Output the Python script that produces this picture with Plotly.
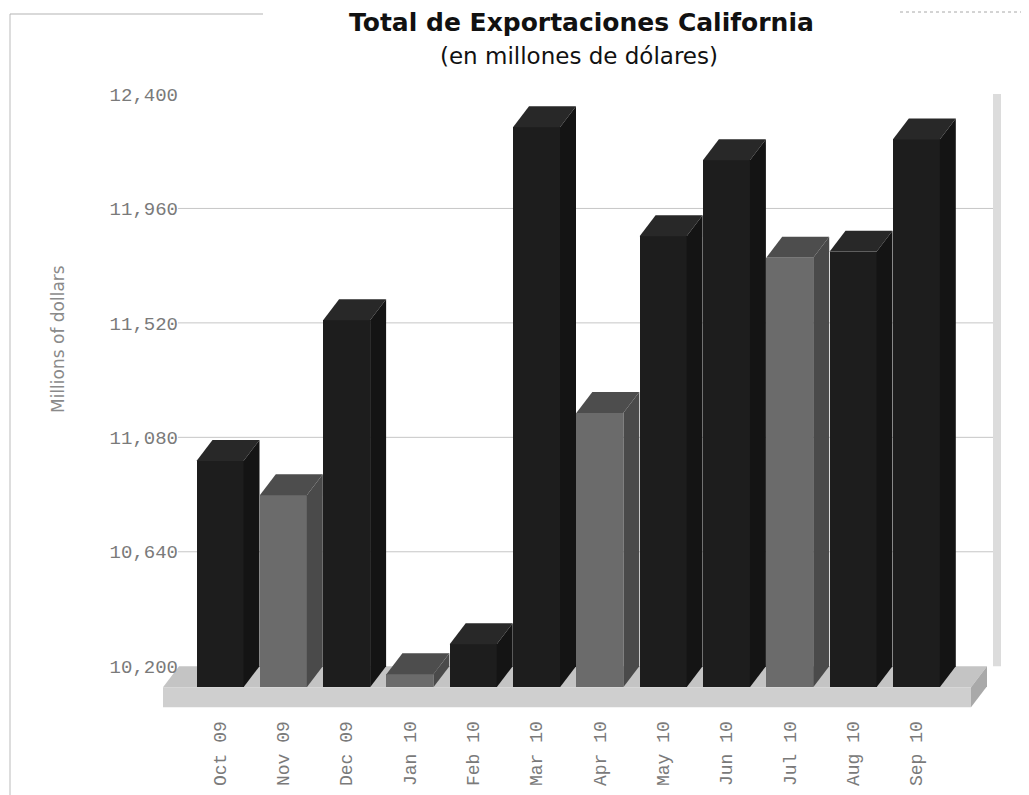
import plotly.graph_objects as go

# ---------------- data ----------------
months = ["Oct 09", "Nov 09", "Dec 09", "Jan 10", "Feb 10", "Mar 10",
          "Apr 10", "May 10", "Jun 10", "Jul 10", "Aug 10", "Sep 10"]
exports = [11070, 10938, 11611, 10250, 10365, 12353,
           11254, 11934, 12226, 11851, 11874, 12306]
y_ticks = [10200, 10640, 11080, 11520, 11960, 12400]
y_tick_labels = ["10,200", "10,640", "11,080", "11,520", "11,960", "12,400"]

title_text = "Total de Exportaciones California"
subtitle_text = "(en millones de dólares)"
y_title = "Millions of dollars"

# ---------------- layout geometry (screen pixels) ----------------
W, H = 1029, 795
OFF = 8  # default page body margin
L, R, T, B = 160, 1005, 94, 712
X0_PX, PITCH_PX = 220, 63.3
Y_LO, Y_HI = 10024, 12400
BASE = y_ticks[0]

def ux(px):
    return (px - X0_PX) / PITCH_PX

def paper_x(px):
    return (px - L) / (R - L)

def paper_y(py):
    return (B - py) / (B - T)

upp = (Y_HI - Y_LO) / (B - T)
DX = 16 / PITCH_PX
DY = 21 * upp
HW = 23.5 / PITCH_PX
FLOOR_THICK = 20 * upp

BLACK = dict(front="#1d1d1d", top="#282828", side="#141414")
GRAY = dict(front="#6b6b6b", top="#4d4d4d", side="#4a4a4a")
styles = [BLACK if i == 0 or exports[i] >= exports[i - 1] else GRAY
          for i in range(len(exports))]

fig = go.Figure()

# front faces as bars
fig.add_trace(go.Bar(
    x=list(range(len(months))),
    y=[v - BASE for v in exports],
    base=BASE - DY,
    width=2 * HW,
    marker=dict(color=[s["front"] for s in styles], line=dict(width=0)),
    hoverinfo="skip",
    showlegend=False,
))

# top and side faces
for i, v in enumerate(exports):
    s = styles[i]
    fig.add_trace(go.Scatter(
        x=[i - HW, i - HW + DX, i + HW + DX, i + HW, i - HW],
        y=[v - DY, v, v, v - DY, v - DY],
        mode="lines", fill="toself", fillcolor=s["top"],
        line=dict(width=0, color=s["top"]), hoverinfo="skip", showlegend=False))
    fig.add_trace(go.Scatter(
        x=[i + HW, i + HW + DX, i + HW + DX, i + HW, i + HW],
        y=[v - DY, v, BASE, BASE - DY, v - DY],
        mode="lines", fill="toself", fillcolor=s["side"],
        line=dict(width=0, color=s["side"]), hoverinfo="skip", showlegend=False))

shapes = []

def path(points):
    return "M " + " L ".join(f"{x},{y}" for x, y in points) + " Z"

# gridlines on back wall
for t in y_ticks[1:-1]:
    shapes.append(dict(type="line", xref="x", yref="y", layer="below",
                       x0=ux(178), x1=ux(993), y0=t, y1=t,
                       line=dict(color="#c6c6c6", width=1)))

# right wall band
shapes.append(dict(type="rect", xref="x", yref="y", layer="below",
                   x0=ux(993), x1=ux(1001), y0=BASE, y1=Y_HI,
                   fillcolor="#dcdcdc", line=dict(width=0)))

# floor slab
fl, fr = ux(163), ux(971)
shapes.append(dict(type="path", xref="x", yref="y", layer="below",
                   path=path([(fl, BASE - DY), (fl + DX, BASE), (fr + DX, BASE), (fr, BASE - DY)]),
                   fillcolor="#c4c4c4", line=dict(width=0)))
shapes.append(dict(type="path", xref="x", yref="y", layer="below",
                   path=path([(fl, BASE - DY), (fr, BASE - DY), (fr, BASE - DY - FLOOR_THICK),
                              (fl, BASE - DY - FLOOR_THICK)]),
                   fillcolor="#cfcfcf", line=dict(width=0)))
shapes.append(dict(type="path", xref="x", yref="y", layer="below",
                   path=path([(fr, BASE - DY), (fr + DX, BASE), (fr + DX, BASE - FLOOR_THICK),
                              (fr, BASE - DY - FLOOR_THICK)]),
                   fillcolor="#a9a9a9", line=dict(width=0)))

# scan frame lines
shapes.append(dict(type="line", xref="paper", yref="paper",
                   x0=paper_x(10), x1=paper_x(10), y0=paper_y(14), y1=paper_y(H),
                   line=dict(color="#d2d2d2", width=1.5)))
shapes.append(dict(type="line", xref="paper", yref="paper",
                   x0=paper_x(10), x1=paper_x(263), y0=paper_y(14), y1=paper_y(14),
                   line=dict(color="#b4b4b4", width=1.2)))
shapes.append(dict(type="line", xref="paper", yref="paper",
                   x0=paper_x(900), x1=paper_x(W), y0=paper_y(12), y1=paper_y(12),
                   line=dict(color="#a8a8a8", width=1, dash="dot")))

annotations = [
    dict(text=f"<b>{title_text}</b>", xref="paper", yref="paper",
         x=paper_x(581), y=paper_y(23), xanchor="center", yanchor="middle",
         showarrow=False, font=dict(family="DejaVu Sans", size=25, color="#111111")),
    dict(text=subtitle_text, xref="paper", yref="paper",
         x=paper_x(579), y=paper_y(56), xanchor="center", yanchor="middle",
         showarrow=False, font=dict(family="DejaVu Sans", size=23, color="#111111")),
    dict(text=y_title, xref="paper", yref="paper",
         x=paper_x(58), y=paper_y(339), xanchor="center", yanchor="middle",
         textangle=-90, showarrow=False,
         font=dict(family="DejaVu Sans", size=17, color="#8a8a8a")),
]

fig.update_layout(
    width=W - OFF, height=H - OFF,
    margin=dict(l=L - OFF, r=W - R, t=T - OFF, b=H - B, pad=0, autoexpand=False),
    paper_bgcolor="white", plot_bgcolor="white",
    showlegend=False, bargap=0,
    shapes=shapes, annotations=annotations,
    xaxis=dict(range=[ux(L), ux(R)], tickvals=list(range(len(months))), ticktext=months,
               tickangle=-90, showgrid=False, zeroline=False, showline=False,
               ticks="outside", ticklen=1, tickcolor="rgba(0,0,0,0)",
               tickfont=dict(family="Liberation Mono", size=18, color="#7a7a7a"),
               automargin=False, fixedrange=True),
    yaxis=dict(range=[Y_LO, Y_HI], tickvals=y_ticks, ticktext=y_tick_labels,
               anchor="free", position=paper_x(178),
               showgrid=False, zeroline=False, showline=False, ticks="",
               tickfont=dict(family="Liberation Mono", size=19, color="#7a7a7a"),
               automargin=False, fixedrange=True),
)

fig.write_html("out.html")
